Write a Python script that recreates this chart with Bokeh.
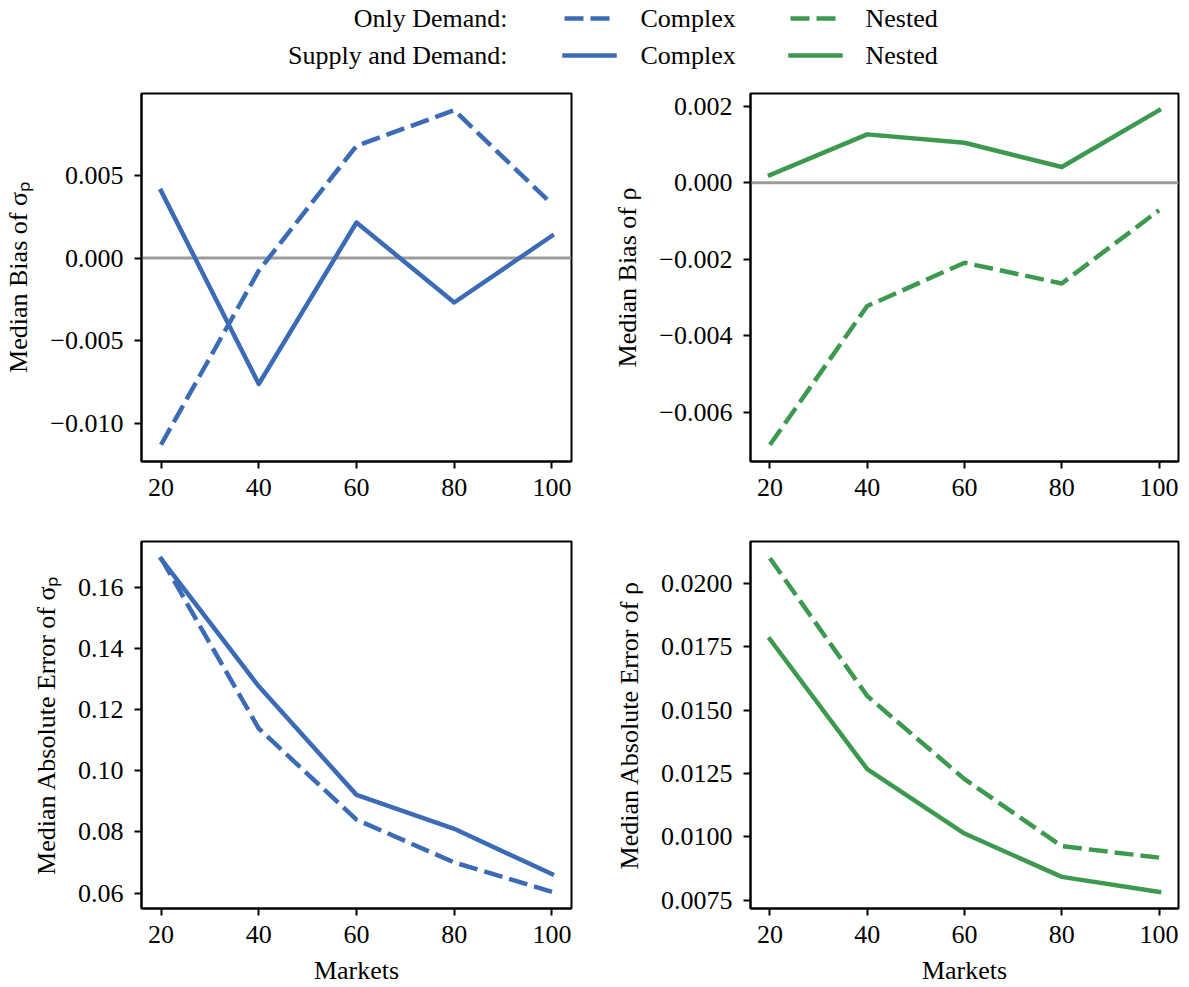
from bokeh.plotting import figure
from bokeh.models import Range1d, FixedTicker, Span
from bokeh.layouts import column, row
from bokeh.embed import file_html
from bokeh.resources import INLINE
from bokeh.core.properties import value

# ---------------- data ----------------
markets = [20, 40, 60, 80, 100]

bias_sigma_only_demand = [-0.01127, -0.00076, 0.00678, 0.00893, 0.00326]
bias_sigma_supply_demand = [0.00406, -0.00760, 0.00215, -0.00268, 0.00135]

bias_rho_only_demand = [-0.00684, -0.00322, -0.00209, -0.00263, -0.00072]
bias_rho_supply_demand = [0.00020, 0.00126, 0.00104, 0.00041, 0.00189]

mae_sigma_only_demand = [0.1695, 0.1138, 0.0840, 0.0700, 0.0604]
mae_sigma_supply_demand = [0.1693, 0.1276, 0.0921, 0.0810, 0.0662]

mae_rho_only_demand = [0.0210, 0.01556, 0.01228, 0.00963, 0.00918]
mae_rho_supply_demand = [0.0178, 0.01267, 0.01013, 0.00842, 0.00783]

x_ticks = [20, 40, 60, 80, 100]
x_tick_labels = ["20", "40", "60", "80", "100"]

bias_sigma_ticks = [-0.010, -0.005, 0.000, 0.005]
bias_sigma_tick_labels = ["\u22120.010", "\u22120.005", "0.000", "0.005"]

bias_rho_ticks = [-0.006, -0.004, -0.002, 0.000, 0.002]
bias_rho_tick_labels = ["\u22120.006", "\u22120.004", "\u22120.002", "0.000", "0.002"]

mae_sigma_ticks = [0.06, 0.08, 0.10, 0.12, 0.14, 0.16]
mae_sigma_tick_labels = ["0.06", "0.08", "0.10", "0.12", "0.14", "0.16"]

mae_rho_ticks = [0.0075, 0.0100, 0.0125, 0.0150, 0.0175, 0.0200]
mae_rho_tick_labels = ["0.0075", "0.0100", "0.0125", "0.0150", "0.0175", "0.0200"]

legend_group_labels = ["Only Demand:", "Supply and Demand:"]
legend_series_labels = ["Complex", "Nested"]

x_label = "Markets"
y_labels = [
    "Median Bias of \u03c3\u209a",
    "Median Bias of \u03c1",
    "Median Absolute Error of \u03c3\u209a",
    "Median Absolute Error of \u03c1",
]

# ---------------- style ----------------
BLUE = "#3b6bb4"
GREEN = "#3c994f"
FONT = "Liberation Serif"
FS = "26px"
LW = 4.5
DASH = "19 7"


def padded(vals, frac=0.05):
    lo, hi = min(vals), max(vals)
    span = hi - lo
    return lo - frac * span, hi + frac * span


def make_panel(width, height, borders, dashed, solid, color, ticks, tick_labels,
               ylabel, show_xlabel, zero_line):
    ylo, yhi = padded(dashed + solid + ([0.0] if zero_line else []))
    xlo, xhi = padded(markets)
    left, right, top, bottom = borders
    p = figure(width=width, height=height,
               x_range=Range1d(xlo, xhi), y_range=Range1d(ylo, yhi),
               output_backend="svg", toolbar_location=None,
               min_border_left=left, min_border_right=right,
               min_border_top=top, min_border_bottom=bottom)
    p.grid.visible = False
    p.outline_line_color = "black"
    p.outline_line_width = 2
    p.background_fill_color = "white"
    p.border_fill_color = "white"

    if zero_line:
        p.add_layout(Span(location=0.0, dimension="width", line_color="#9b9b9b",
                          line_width=3, level="underlay"))

    p.line(markets, dashed, line_color=color, line_width=LW, line_dash=DASH,
           line_join="round", line_cap="butt")
    p.line(markets, solid, line_color=color, line_width=LW,
           line_join="round", line_cap="square")

    p.xaxis.ticker = FixedTicker(ticks=x_ticks, minor_ticks=[])
    p.xaxis.major_label_overrides = dict(zip(x_ticks, x_tick_labels))
    p.yaxis.ticker = FixedTicker(ticks=ticks, minor_ticks=[])
    p.yaxis.major_label_overrides = dict(zip(ticks, tick_labels))

    for ax in (p.xaxis[0], p.yaxis[0]):
        ax.axis_line_color = "black"
        ax.axis_line_width = 2
        ax.major_tick_line_color = "black"
        ax.major_tick_line_width = 2
        ax.major_tick_out = 7
        ax.major_tick_in = 0
        ax.minor_tick_line_color = None
        ax.major_label_text_font = FONT
        ax.major_label_text_font_size = FS
        ax.major_label_text_color = "black"
        ax.axis_label_text_font = FONT
        ax.axis_label_text_font_size = FS
        ax.axis_label_text_font_style = "normal"
        ax.axis_label_text_color = "black"
        ax.major_label_standoff = 10
        ax.axis_label_standoff = 14

    p.yaxis.major_label_standoff = 11
    p.yaxis.axis_label = ylabel
    if show_xlabel:
        p.xaxis.axis_label = x_label
        p.xaxis.axis_label_standoff = 10
    return p


p1 = make_panel(600, 412, (141, 29, 5, 39), bias_sigma_only_demand,
                bias_sigma_supply_demand, BLUE, bias_sigma_ticks,
                bias_sigma_tick_labels, y_labels[0], False, True)
p2 = make_panel(589, 412, (150, 11, 5, 39), bias_rho_only_demand,
                bias_rho_supply_demand, GREEN, bias_rho_ticks,
                bias_rho_tick_labels, y_labels[1], False, True)
p3 = make_panel(600, 487, (141, 29, 41, 78), mae_sigma_only_demand,
                mae_sigma_supply_demand, BLUE, mae_sigma_ticks,
                mae_sigma_tick_labels, y_labels[2], True, False)
p4 = make_panel(589, 487, (150, 11, 41, 78), mae_rho_only_demand,
                mae_rho_supply_demand, GREEN, mae_rho_ticks,
                mae_rho_tick_labels, y_labels[3], True, False)

# ---------------- legend (drawn in its own strip) ----------------
leg = figure(width=1189, height=88, x_range=Range1d(0, 1189), y_range=Range1d(88, 0),
             output_backend="svg", toolbar_location=None,
             x_axis_location=None, y_axis_location=None, min_border=0)
leg.grid.visible = False
leg.outline_line_color = None
leg.border_fill_color = "white"

row_y = [18, 55]
leg.text(x=[507, 507], y=row_y, text=legend_group_labels, text_align="right",
         text_baseline="middle", text_font=value(FONT), text_font_size=FS,
         text_color="black")
for j, (col, sx, tx) in enumerate([(BLUE, 564, 640), (GREEN, 790, 865)]):
    leg.line([sx, sx + 50], [row_y[0], row_y[0]], line_color=col, line_width=LW,
             line_dash=DASH, line_cap="butt")
    leg.line([sx, sx + 50], [row_y[1], row_y[1]], line_color=col, line_width=LW,
             line_cap="square")
    leg.text(x=[tx, tx], y=row_y, text=[legend_series_labels[j]] * 2,
             text_align="left", text_baseline="middle", text_font=value(FONT),
             text_font_size=FS, text_color="black")

layout = column(leg, row(p1, p2), row(p3, p4))
open("out.html", "w").write(file_html(layout, INLINE))
